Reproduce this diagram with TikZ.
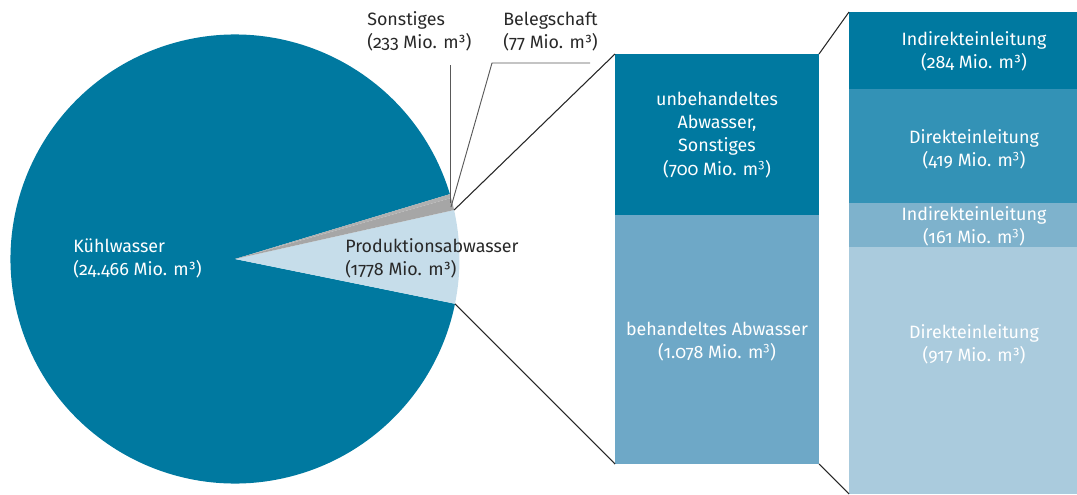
\documentclass[tikz,border=0pt]{standalone}
\usepackage{fontspec}
\setmainfont{Fira Sans}[Numbers=OldStyle]
\usetikzlibrary{calc}
\definecolor{cTeal}{RGB}{0,121,160}
\definecolor{cLight}{RGB}{198,221,234}
\definecolor{cGray}{RGB}{166,166,166}
\definecolor{cGrayB}{RGB}{176,176,176}
\definecolor{cMid}{RGB}{110,168,199}
\definecolor{cBlueB}{RGB}{51,146,182}
\definecolor{cBlueC}{RGB}{126,178,204}
\definecolor{cBlueD}{RGB}{170,203,221}
\definecolor{cText}{RGB}{40,40,40}
\begin{document}
\begin{tikzpicture}[x=0.75pt,y=0.75pt,
  lbl/.style={inner sep=0pt,font=\fontsize{13.4pt}{17.3pt}\selectfont},
  wlbl/.style={lbl,text=white,align=center},
  dlbl/.style={lbl,text=cText,align=left},
  leader/.style={draw=black!65,line width=0.7pt},
  zoomline/.style={draw=black!85,line width=0.8pt}]
\useasboundingbox (0,0) rectangle (1077,494);
% pie
\coordinate (C) at (235,235);
\def\R{224.5}
\fill[cTeal] (C) -- ++(16.8:\R) arc[start angle=16.8,end angle=348.5,radius=\R] -- cycle;
\fill[cLight] (C) -- ++(-11.5:\R) arc[start angle=-11.5,end angle=12.6,radius=\R] -- cycle;
\fill[cGray] (C) -- ++(12.6:\R) arc[start angle=12.6,end angle=15.76,radius=\R] -- cycle;
\fill[cGrayB] (C) -- ++(15.76:\R) arc[start angle=15.76,end angle=16.8,radius=\R] -- cycle;
\coordinate (pTop) at ($(C)+(12.6:\R)$);
\coordinate (pBot) at ($(C)+(-11.5:\R)$);
% bar 1
\fill[cTeal] (615,440) rectangle (819,279);
\fill[cMid] (615,279) rectangle (819,30);
\coordinate (b1tl) at (615,440);
\coordinate (b1tr) at (819,440);
\coordinate (b1bl) at (615,30);
\coordinate (b1br) at (819,30);
% bar 2
\fill[cTeal] (849,482) rectangle (1077,405);
\fill[cBlueB] (849,405) rectangle (1077,291);
\fill[cBlueC] (849,291) rectangle (1077,247);
\fill[cBlueD] (849,247) rectangle (1077,0);
\coordinate (b2tl) at (849,482);
\coordinate (b2bl) at (849,0);
% connectors
\draw[zoomline] (pTop) -- (b1tl);
\draw[zoomline] (pBot) -- (b1bl);
\draw[zoomline] (b1tr) -- (b2tl);
\draw[zoomline] (b1br) -- (b2bl);
% leaders
\coordinate (sEnd) at (450,291);
\coordinate (sTop) at (450,429);
\draw[leader] (sTop) -- (sEnd);
\coordinate (bEnd) at (451,287);
\coordinate (bKnee) at (492,431);
\coordinate (bTop) at (590,431);
\draw[leader] (bTop) -- (bKnee) -- (bEnd);
% labels
\node[dlbl,anchor=west] (lSon) at (367,462.5) {Sonstiges\\(233 Mio. m³)};
\node[dlbl,anchor=west] (lBel) at (503,462.5) {Belegschaft\\(77 Mio. m³)};
\node[wlbl,align=left,anchor=west] (lKuehl) at (73,235.5) {Kühlwasser\\(24.466 Mio. m³)};
\node[dlbl,anchor=west] (lProd) at (345,235.5) {Produktionsabwasser\\(1778 Mio. m³)};
\node[wlbl] (lUnb) at (717,359) {unbehandeltes\\Abwasser,\\Sonstiges\\(700 Mio. m\textsuperscript{3})};
\node[wlbl] (lBeh) at (717,152.5) {behandeltes Abwasser\\(1.078 Mio. m\textsuperscript{3})};
\node[wlbl] (lI1) at (974,442.5) {Indirekteinleitung\\(284 Mio. m³)};
\node[wlbl] (lD1) at (974,344.5) {Direkteinleitung\\(419 Mio. m\textsuperscript{3})};
\node[wlbl] (lI2) at (974,268) {Indirekteinleitung\\(161 Mio. m\textsuperscript{3})};
\node[wlbl] (lD2) at (974,149.5) {Direkteinleitung\\(917 Mio. m³)};
\end{tikzpicture}
\end{document}
